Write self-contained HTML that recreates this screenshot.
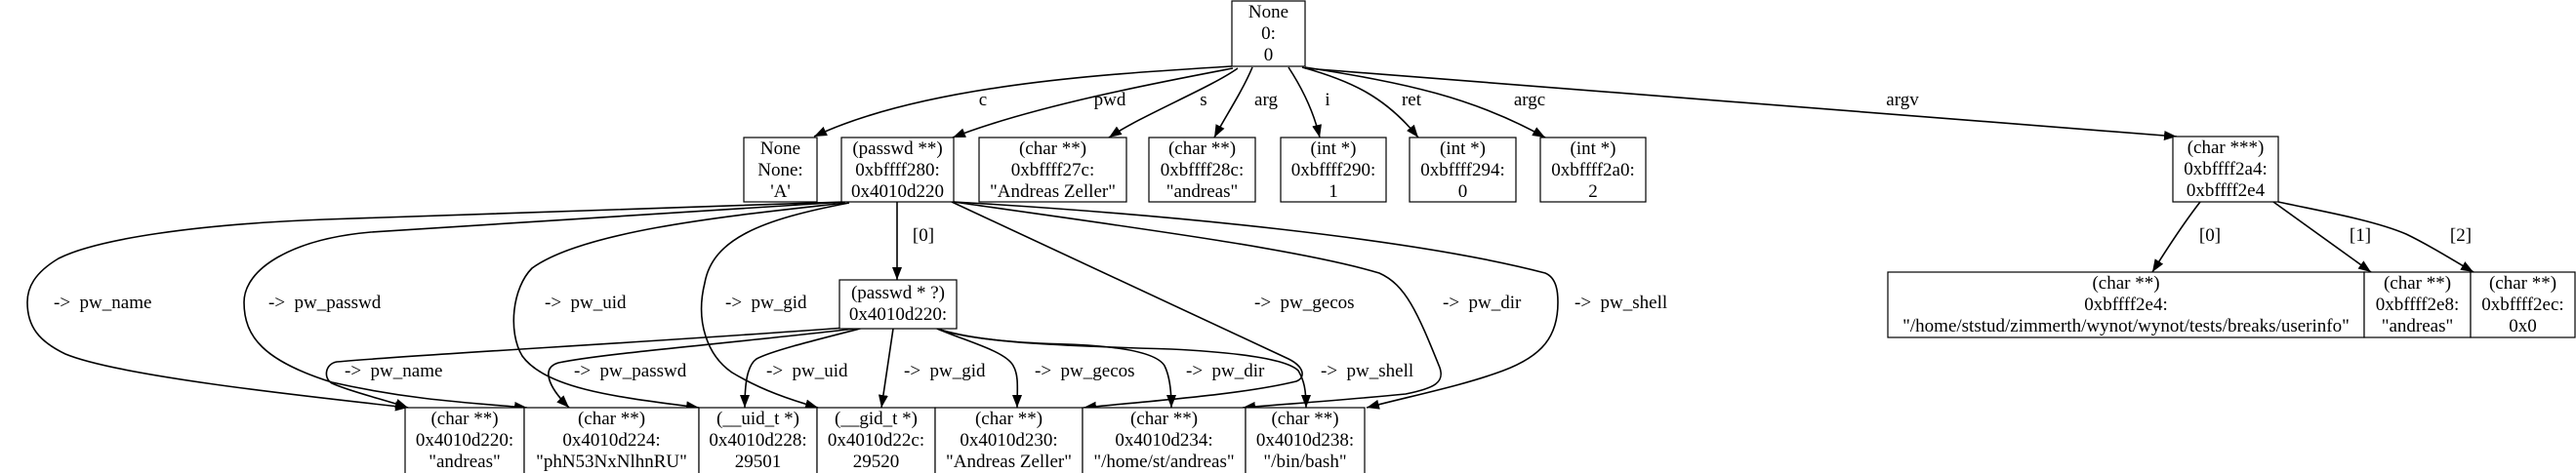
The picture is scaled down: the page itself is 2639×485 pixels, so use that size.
<!DOCTYPE html>
<html>
<head>
<meta charset="utf-8">
<style>
html,body{margin:0;padding:0;background:#fff;}
svg{display:block;}
text{font-family:"Liberation Serif","DejaVu Serif",serif;font-size:19px;fill:#000;white-space:pre;}
.c{text-anchor:middle;}
.box{fill:#fff;stroke:#000;stroke-width:1.2;}
.e{fill:none;stroke:#000;stroke-width:1.6;marker-end:url(#ah);}
</style>
</head>
<body>
<svg width="2639" height="485" viewBox="0 0 2639 485" xmlns="http://www.w3.org/2000/svg">
<defs>
<marker id="ah" markerUnits="userSpaceOnUse" markerWidth="14" markerHeight="10" refX="13" refY="5" orient="auto">
<path d="M0,0 L13,5 L0,10 z" fill="#000"/>
</marker>
</defs>

<!-- Top edges -->
<path class="e" d="M1262,68 C1150,75 950,85 834,140"/>
<path class="e" d="M1263,70 C1200,82 1060,108 976,141"/>
<path class="e" d="M1268,70 C1240,90 1170,118 1136,141"/>
<path class="e" d="M1283,69 C1272,95 1255,120 1244,141"/>
<path class="e" d="M1320,69 C1335,92 1346,115 1352,141"/>
<path class="e" d="M1334,69 C1385,83 1420,100 1453,141"/>
<path class="e" d="M1337,69 C1440,85 1510,100 1583,141"/>
<path class="e" d="M1337,70 L2230,140"/>

<text class="c" x="1007" y="108">c</text>
<text class="c" x="1137" y="108">pwd</text>
<text class="c" x="1233" y="108">s</text>
<text class="c" x="1297" y="108">arg</text>
<text class="c" x="1360" y="108">i</text>
<text class="c" x="1446" y="108">ret</text>
<text class="c" x="1567" y="108">argc</text>
<text class="c" x="1949" y="108">argv</text>

<!-- P -> PS -->
<path class="e" d="M919,207 L919,287"/>
<text class="c" x="946" y="247">[0]</text>

<!-- outer edges from P -->
<path class="e" d="M865,207 L333,225 C200,230 100,245 60,265 C35,280 28,295 28,310 C28,335 40,350 67,363 C120,385 300,405 418,418"/>
<path class="e" d="M866,207 L380,238 C300,245 250,275 250,310 C250,345 270,370 340,392 C420,410 480,413 540,418"/>
<path class="e" d="M866,208 C760,220 600,235 545,275 C525,295 520,340 535,365 C560,400 640,408 716,418"/>
<path class="e" d="M870,208 C780,225 730,245 722,290 C712,330 725,365 750,382 C780,400 810,410 838,418"/>
<path class="e" d="M975,207 L1320,368 C1336,376 1338,387 1328,391 C1270,405 1180,411 1110,418"/>
<path class="e" d="M977,207 C1150,232 1330,255 1413,280 C1440,292 1452,320 1475,377 C1480,392 1470,398 1440,404 C1380,410 1320,414 1273,418"/>
<path class="e" d="M977,207 C1200,220 1450,245 1583,280 C1595,285 1596,300 1596,310 C1596,345 1580,365 1540,380 C1500,395 1450,405 1400,418"/>

<text x="55" y="316">->  pw_name</text>
<text x="275" y="316">->  pw_passwd</text>
<text x="558" y="316">->  pw_uid</text>
<text x="743" y="316">->  pw_gid</text>
<text x="1285" y="316">->  pw_gecos</text>
<text x="1478" y="316">->  pw_dir</text>
<text x="1613" y="316">->  pw_shell</text>

<!-- inner edges from PS -->
<path class="e" d="M866,336 C650,352 450,362 345,371 C333,373 331,388 340,393 C360,402 395,410 418,418"/>
<path class="e" d="M884,336 C750,352 620,362 572,372 C555,377 560,395 583,418"/>
<path class="e" d="M885,336 C830,350 790,360 775,368 C765,375 763,395 763,418"/>
<path class="e" d="M915,337 L903,418"/>
<path class="e" d="M960,337 C990,350 1030,360 1038,375 C1044,385 1042,400 1042,418"/>
<path class="e" d="M960,337 C1000,350 1060,352 1093,353 C1150,355 1185,362 1193,375 C1198,385 1200,400 1200,418"/>
<path class="e" d="M960,337 C1000,352 1100,355 1200,358 C1280,362 1320,370 1330,380 C1336,390 1338,400 1338,418"/>

<text x="353" y="386">->  pw_name</text>
<text x="588" y="386">->  pw_passwd</text>
<text x="785" y="386">->  pw_uid</text>
<text x="926" y="386">->  pw_gid</text>
<text x="1060" y="386">->  pw_gecos</text>
<text x="1215" y="386">->  pw_dir</text>
<text x="1353" y="386">->  pw_shell</text>

<!-- right side edges -->
<path class="e" d="M2254,207 C2240,225 2220,255 2205,279"/>
<path class="e" d="M2329,207 L2429,279"/>
<path class="e" d="M2334,207 C2370,215 2430,225 2465,240 C2490,252 2510,265 2534,279"/>
<text class="c" x="2264" y="247">[0]</text>
<text class="c" x="2418" y="247">[1]</text>
<text class="c" x="2521" y="247">[2]</text>

<!-- Top node -->
<rect class="box" x="1262" y="1" width="75" height="67"/>
<text class="c" x="1299.5" y="18">None</text>
<text class="c" x="1299.5" y="40">0:</text>
<text class="c" x="1299.5" y="62">0</text>

<!-- Row 2 -->
<rect class="box" x="762" y="141" width="75" height="66"/>
<text class="c" x="799.5" y="158">None</text>
<text class="c" x="799.5" y="180">None:</text>
<text class="c" x="799.5" y="202">'A'</text>

<rect class="box" x="862" y="141" width="115" height="66"/>
<text class="c" x="919.5" y="158">(passwd **)</text>
<text class="c" x="919.5" y="180">0xbffff280:</text>
<text class="c" x="919.5" y="202">0x4010d220</text>

<rect class="box" x="1003" y="141" width="151" height="66"/>
<text class="c" x="1078.5" y="158">(char **)</text>
<text class="c" x="1078.5" y="180">0xbffff27c:</text>
<text class="c" x="1078.5" y="202">"Andreas Zeller"</text>

<rect class="box" x="1177" y="141" width="109" height="66"/>
<text class="c" x="1231.5" y="158">(char **)</text>
<text class="c" x="1231.5" y="180">0xbffff28c:</text>
<text class="c" x="1231.5" y="202">"andreas"</text>

<rect class="box" x="1312" y="141" width="108" height="66"/>
<text class="c" x="1366" y="158">(int *)</text>
<text class="c" x="1366" y="180">0xbffff290:</text>
<text class="c" x="1366" y="202">1</text>

<rect class="box" x="1444" y="141" width="109" height="66"/>
<text class="c" x="1498.5" y="158">(int *)</text>
<text class="c" x="1498.5" y="180">0xbffff294:</text>
<text class="c" x="1498.5" y="202">0</text>

<rect class="box" x="1578" y="141" width="108" height="66"/>
<text class="c" x="1632" y="158">(int *)</text>
<text class="c" x="1632" y="180">0xbffff2a0:</text>
<text class="c" x="1632" y="202">2</text>

<rect class="box" x="2226" y="140" width="108" height="67"/>
<text class="c" x="2280" y="157">(char ***)</text>
<text class="c" x="2280" y="179">0xbffff2a4:</text>
<text class="c" x="2280" y="201">0xbffff2e4</text>

<!-- PS node -->
<rect class="box" x="860" y="287" width="120" height="50"/>
<text class="c" x="920" y="306">(passwd * ?)</text>
<text class="c" x="920" y="328">0x4010d220:</text>

<!-- Right bottom row -->
<rect class="box" x="1934" y="279" width="488" height="67"/>
<text class="c" x="2178" y="296">(char **)</text>
<text class="c" x="2178" y="318">0xbffff2e4:</text>
<text class="c" x="2178" y="340">"/home/ststud/zimmerth/wynot/wynot/tests/breaks/userinfo"</text>

<rect class="box" x="2422" y="279" width="109" height="67"/>
<text class="c" x="2476.5" y="296">(char **)</text>
<text class="c" x="2476.5" y="318">0xbffff2e8:</text>
<text class="c" x="2476.5" y="340">"andreas"</text>

<rect class="box" x="2531" y="279" width="107" height="67"/>
<text class="c" x="2584.5" y="296">(char **)</text>
<text class="c" x="2584.5" y="318">0xbffff2ec:</text>
<text class="c" x="2584.5" y="340">0x0</text>

<!-- Bottom left row -->
<rect class="box" x="415" y="418" width="122" height="70"/>
<text class="c" x="476" y="435">(char **)</text>
<text class="c" x="476" y="457">0x4010d220:</text>
<text class="c" x="476" y="479">"andreas"</text>

<rect class="box" x="537" y="418" width="179" height="70"/>
<text class="c" x="626.5" y="435">(char **)</text>
<text class="c" x="626.5" y="457">0x4010d224:</text>
<text class="c" x="626.5" y="479">"phN53NxNlhnRU"</text>

<rect class="box" x="716" y="418" width="121" height="70"/>
<text class="c" x="776.5" y="435">(__uid_t *)</text>
<text class="c" x="776.5" y="457">0x4010d228:</text>
<text class="c" x="776.5" y="479">29501</text>

<rect class="box" x="837" y="418" width="121" height="70"/>
<text class="c" x="897.5" y="435">(__gid_t *)</text>
<text class="c" x="897.5" y="457">0x4010d22c:</text>
<text class="c" x="897.5" y="479">29520</text>

<rect class="box" x="958" y="418" width="151" height="70"/>
<text class="c" x="1033.5" y="435">(char **)</text>
<text class="c" x="1033.5" y="457">0x4010d230:</text>
<text class="c" x="1033.5" y="479">"Andreas Zeller"</text>

<rect class="box" x="1109" y="418" width="167" height="70"/>
<text class="c" x="1192.5" y="435">(char **)</text>
<text class="c" x="1192.5" y="457">0x4010d234:</text>
<text class="c" x="1192.5" y="479">"/home/st/andreas"</text>

<rect class="box" x="1276" y="418" width="122" height="70"/>
<text class="c" x="1337" y="435">(char **)</text>
<text class="c" x="1337" y="457">0x4010d238:</text>
<text class="c" x="1337" y="479">"/bin/bash"</text>
</svg>
</body>
</html>
